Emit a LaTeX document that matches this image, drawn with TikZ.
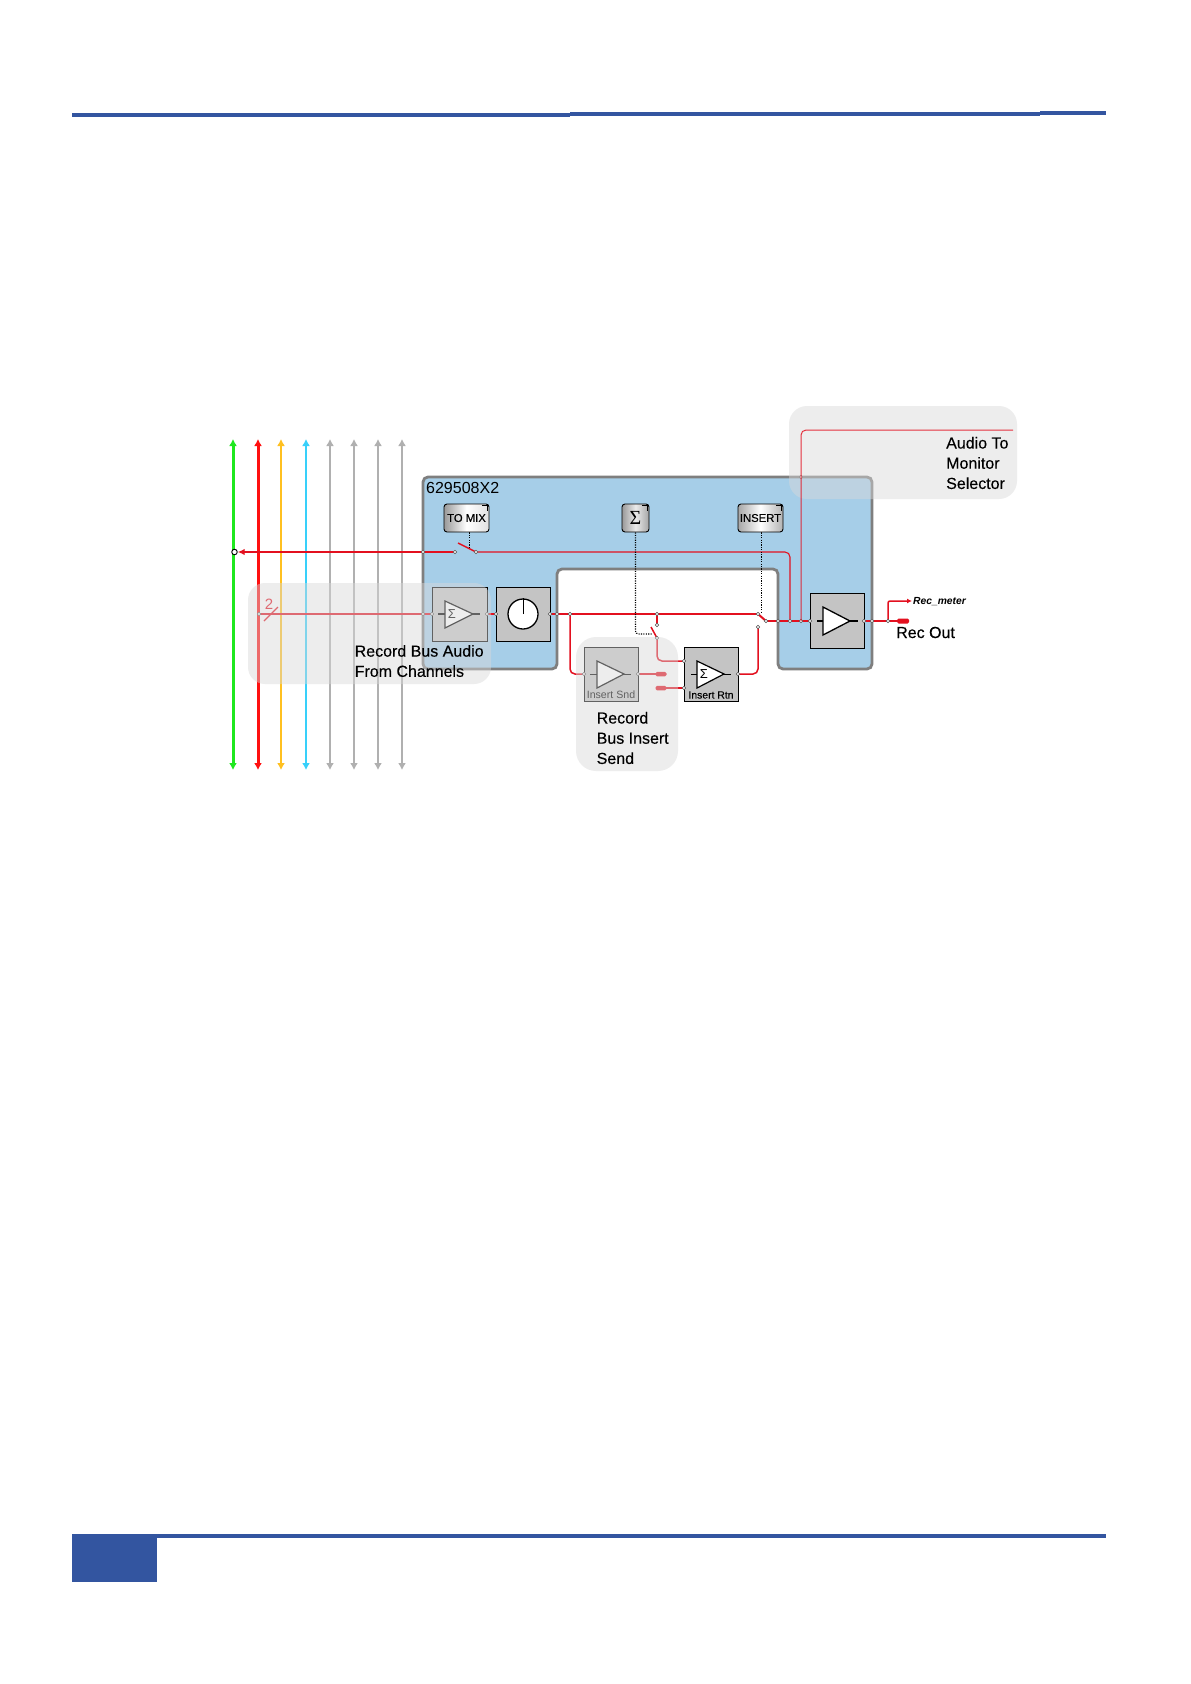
\documentclass[tikz,border=0pt]{standalone}
\usepackage{fontspec}
\setmainfont{Liberation Sans}
\newfontfamily\serifsym{Liberation Serif}
\newfontfamily\labfont[FakeBold=0.22]{Liberation Sans}
\usetikzlibrary{arrows.meta}
\pgfdeclarelayer{bluelayer}
\pgfdeclarelayer{wires}
\pgfdeclarelayer{bubblelayer}
\pgfdeclarelayer{labellayer}
\pgfsetlayers{bluelayer,wires,main,bubblelayer,labellayer}
\definecolor{hdrblue}{HTML}{3355A0}
\definecolor{panelblue}{HTML}{A6CEE8}
\definecolor{wirered}{HTML}{E3101F}
\definecolor{boxgray}{HTML}{C4C4C4}
\definecolor{edgegray}{HTML}{7F7F7F}
\definecolor{busgreen}{HTML}{1FE81F}
\definecolor{busred}{HTML}{FF1010}
\definecolor{busyellow}{HTML}{FFC020}
\definecolor{buscyan}{HTML}{38D0FA}
\definecolor{busgray}{HTML}{B0B0B0}
\newcommand{\fsz}[1]{\fontsize{#1}{20.2}\selectfont}
\tikzset{
  x=1pt,y=-1pt,
  busline/.style={line width=2.8pt,{Latex[length=7pt,width=8pt]}-{Latex[length=7pt,width=8pt]}},
  jn/.style={circle,draw=black!70,fill=white,line width=.5pt,minimum size=3.6pt,inner sep=0pt},
  jnbig/.style={circle,draw=black,fill=white,line width=.9pt,minimum size=5.5pt,inner sep=0pt},
  heavy/.style={draw=wirered,line width=2pt},
  heavier/.style={draw=wirered,line width=2.6pt},
  lightw/.style={draw=wirered,line width=1.1pt},
  mid/.style={draw=wirered,line width=1.5pt},
  gbox/.style={draw=black,fill=boxgray,line width=.9pt,minimum width=54pt,minimum height=54pt,inner sep=0pt},
  tri/.style={draw=black,fill=white,line width=1.2pt,line join=miter},
  stubw/.style={draw=black,line width=1pt},
  ctrl/.style={draw=black,line width=.9pt,dash pattern=on 1.1pt off 1.3pt},
  btn/.style={draw=black,rounded corners=3pt,line width=.9pt,minimum height=28pt,inner sep=0pt,font=\labfont\fsz{11.3}},
  plug/.style={fill=wirered,rounded corners=1.5pt,minimum width=12pt,inner sep=0pt},
  bubble/.style={fill=black!15,fill opacity=.45},
  lab/.style={anchor=west,align=left,inner sep=0pt,font=\labfont\fsz{16},text=black},
}
\begin{document}
\begin{tikzpicture}
\useasboundingbox (0,0) rectangle (1191,1684);

% page rules
\fill[hdrblue] (72,113) rectangle (259,117);
\fill[hdrblue] (259,112.7) rectangle (415,116.7);
\fill[hdrblue] (415,112.5) rectangle (570,116.5);
\fill[hdrblue] (570,112.2) rectangle (728,116.2);
\fill[hdrblue] (728,112) rectangle (883,116);
\fill[hdrblue] (883,111.7) rectangle (1040,115.7);
\fill[hdrblue] (1040,111.4) rectangle (1106,115.4);
\fill[hdrblue] (72,1534) rectangle (157,1582);
\fill[hdrblue] (157,1534) rectangle (1106,1538);

% panel
\begin{pgfonlayer}{bluelayer}
\fill[white] (0,0) rectangle (1191,1684);
\draw[fill=panelblue,draw=edgegray,line width=2.8pt,rounded corners=5pt]
 (423,477) -- (872,477) -- (872,669) -- (778,669) -- (778,569) -- (557,569) -- (557,669) -- (423,669) -- cycle;
\end{pgfonlayer}

% bus end points
\coordinate (g1) at (233,439); \coordinate (g2) at (233,770);
\coordinate (r1) at (258,439); \coordinate (r2) at (258,770);
\coordinate (y1) at (281,439); \coordinate (y2) at (281,770);
\coordinate (c1) at (306,439); \coordinate (c2) at (306,770);
\coordinate (a1) at (330,439); \coordinate (a2) at (330,770);
\coordinate (b1) at (354,439); \coordinate (b2) at (354,770);
\coordinate (d1) at (378,439); \coordinate (d2) at (378,770);
\coordinate (e1) at (402,439); \coordinate (e2) at (402,770);

% blocks
\node[gbox,minimum width=55pt] (amp1) at (459.5,614) {};
\node[gbox,minimum width=54pt] (knob) at (523,614) {};
\node[gbox] (snd) at (611,674) {};
\node[gbox] (rtn) at (711,674) {};
\node[gbox,minimum width=54pt,minimum height=55pt] (out) at (837,620.5) {};

% buttons
\node[btn,minimum width=45pt,left color=black!40,right color=black!12,middle color=white] (tomix) at (466.5,518) {TO MIX};
\node[btn,minimum width=27pt,left color=black!40,right color=black!35,middle color=black!8,font=\serifsym\fsz{20}] (sig) at (635.5,518) {Σ};
\node[btn,minimum width=45pt,left color=black!35,right color=black!30,middle color=white] (ins) at (760.5,518) {INSERT};
\draw[line width=.5pt] ([xshift=-7pt,yshift=-2pt]tomix.north east) -- ([xshift=-2pt,yshift=-2pt]tomix.north east) -- ([xshift=-2pt,yshift=-7pt]tomix.north east);
\draw[line width=.5pt] ([xshift=-7pt,yshift=-2pt]sig.north east) -- ([xshift=-2pt,yshift=-2pt]sig.north east) -- ([xshift=-2pt,yshift=-7pt]sig.north east);
\draw[line width=.5pt] ([xshift=-7pt,yshift=-2pt]ins.north east) -- ([xshift=-2pt,yshift=-2pt]ins.north east) -- ([xshift=-2pt,yshift=-7pt]ins.north east);

% block contents
\draw[stubw,line width=1.4pt] (438,614) -- (445,614) (473,614) -- (480,614);
\draw[tri] (445,601) -- (473,614) -- (445,628) -- cycle;
\node[inner sep=0pt,font=\fsz{13}] (s1) at (452,614.5) {Σ};
\node[circle,draw=black,fill=white,line width=1.3pt,minimum size=30pt,inner sep=0pt] (dial) at (523,614) {};
\draw[line width=1pt] (dial.center) -- (dial.north);
\draw[stubw] (590,674) -- (597,674) (624,674) -- (631,674);
\draw[tri] (597,661) -- (624,674) -- (597,688) -- cycle;
\node[inner sep=0pt,font=\fsz{10.6}] (sndlab) at (611,695) {Insert Snd};
\draw[stubw] (691,674) -- (697,674) (724,674) -- (731,674);
\draw[tri] (697,661) -- (724,674) -- (697,688) -- cycle;
\node[inner sep=0pt,font=\fsz{13}] (s2) at (704,674.5) {Σ};
\node[inner sep=0pt,font=\labfont\fsz{10.4}] (rtnlab) at (711,695) {Insert Rtn};
\draw[stubw,line width=1.6pt] (817,621) -- (823,621) (850,621) -- (858,621);
\draw[tri,line width=1.3pt] (823,607) -- (850,621) -- (823,635) -- cycle;

% junctions
\node[jnbig] (jg) at (234.5,552) {};
\node[jn] (jtm1) at (423,552) {};
\node[jn] (jtm2) at (455,552) {};
\node[jn] (jtm3) at (476,552) {};
\node[jn] (jb) at (259,614) {};
\node[jn] (j423) at (423,614) {};
\node[jn] (jai) at (432,614) {};
\node[jn] (jao) at (487,614) {};
\node[jn] (jki) at (496,614) {};
\node[jn] (jko) at (550,614) {};
\node[jn] (j557) at (557,614) {};
\node[jn] (j570) at (570,614) {};
\node[jn] (j657) at (657,614) {};
\node[jn] (j758) at (758,614) {};
\node[jn] (j766) at (766,621) {};
\node[jn] (j778) at (778,621) {};
\node[jn] (j790) at (790,621) {};
\node[jn] (j801) at (801,621) {};
\node[jn] (joi) at (810,621) {};
\node[jn] (joo) at (864,621) {};
\node[jn] (j872) at (872,621) {};
\node[jn] (j888) at (888,621) {};
\node[jn] (j801t) at (801,477) {};
\node[jn] (c657) at (657,625) {};
\node[jn] (c657b) at (657,638) {};
\node[jn] (c758) at (758,627) {};
\node[jn] (si) at (584,674) {};
\node[jn] (so) at (638,674) {};
\node[jn] (ri1) at (684,661) {};
\node[jn] (ri2) at (684,688) {};
\node[jn] (ro) at (738,674) {};
\node[plug,minimum height=5pt] (recout) at (903,621) {};
\node[plug,minimum height=4.5pt,minimum width=11pt] (p1) at (661,674) {};
\node[plug,minimum height=4.5pt,minimum width=11pt] (p2) at (661,688) {};
\coordinate (mon) at (1013,430);
\coordinate (meter) at (912,601);
\coordinate (blade1) at (458,543);
\coordinate (blade2) at (651,627);
\coordinate (tobl) at (469,548);
\coordinate (sgbl) at (652,634);
\coordinate (inbl) at (761,612);

% wires
\begin{pgfonlayer}{wires}
\draw[busline,busgreen,line width=3pt] (g2) -- (g1);
\draw[busline,busred,line width=3pt] (r2) -- (r1);
\draw[busline,busyellow] (y2) -- (y1);
\draw[busline,buscyan] (c2) -- (c1);
\draw[busline,busgray,line width=2.4pt] (a2) -- (a1);
\draw[busline,busgray,line width=2.4pt] (b2) -- (b1);
\draw[busline,busgray,line width=2.4pt] (d2) -- (d1);
\draw[busline,busgray,line width=2.4pt] (e2) -- (e1);

\draw[heavy,-{Latex[length=7pt,width=6.5pt]}] (jtm2.center) -- (jg);
\draw[mid] (blade1) -- (jtm3.center);
\draw[lightw,rounded corners=5pt] (jtm3.center) -| (j790.center);
\draw[lightw,line width=1.2pt] (jb.center) -- (jai.center);
\draw[heavy] (jao.center) -- (jki.center);
\draw[heavy] (jko.center) -- (j758.center);
\draw[heavy] (j758.center) -- (j766.center);
\draw[heavier] (j766.center) -- (joi.center);
\draw[heavier] (joo.center) -- (recout.center);
\draw[mid,-{Latex[length=5pt,width=5pt]},rounded corners=2pt] (j888.center) |- (meter);
\draw[mid,rounded corners=5pt] (j570.center) |- (si.center);
\draw[mid] (so.center) -- (p1.center);
\draw[heavy] (p2.center) -- (ri2.center);
\draw[mid] (j657.center) -- (c657.center);
\draw[mid] (blade2) -- (c657b.center);
\draw[mid,rounded corners=5pt] (c657b.center) |- (ri1.center);
\draw[mid,rounded corners=5pt] (ro.center) -| (c758.center);
\draw[ctrl] (tomix.south -| tobl) -- (tobl);
\draw[ctrl,line width=1.1pt,rounded corners=3pt] (sig.south) |- (sgbl);
\draw[ctrl] (ins.south -| inbl) -- (inbl);
% bus-width marker
\draw[lightw] (264,621) -- (278,607);
\end{pgfonlayer}

% panel title and marker text
\node[inner sep=0pt,anchor=west,font=\fsz{16}] (title) at (426,488) {629508X2};
\node[inner sep=0pt,font=\fsz{15},text=wirered] (two) at (269,604.5) {2};

% highlight bubbles
\begin{pgfonlayer}{bubblelayer}
\fill[bubble,rounded corners=17pt] (248,583) rectangle (491,684);
\fill[bubble,rounded corners=20pt] (576,637) rectangle (678,771);
\fill[bubble,rounded corners=18pt] (789,406) rectangle (1017,499);
\draw[lightw,line width=1pt,draw opacity=.85,rounded corners=5pt] (j801.center) |- (mon);
\end{pgfonlayer}

% labels
\begin{pgfonlayer}{labellayer}
\node[lab] (l1) at (354.5,661) {Record Bus Audio\\From Channels};
\node[lab] (l2) at (596.5,738) {Record\\Bus Insert\\Send};
\node[lab] (l3) at (946,463) {Audio To\\Monitor\\Selector};
\node[lab] (l4) at (896,632.5) {Rec Out};
\node[anchor=west,inner sep=0pt,font=\bfseries\itshape\fsz{10.3}] (l5) at (913,601.5) {Rec\_meter};
\end{pgfonlayer}
\end{tikzpicture}
\end{document}
